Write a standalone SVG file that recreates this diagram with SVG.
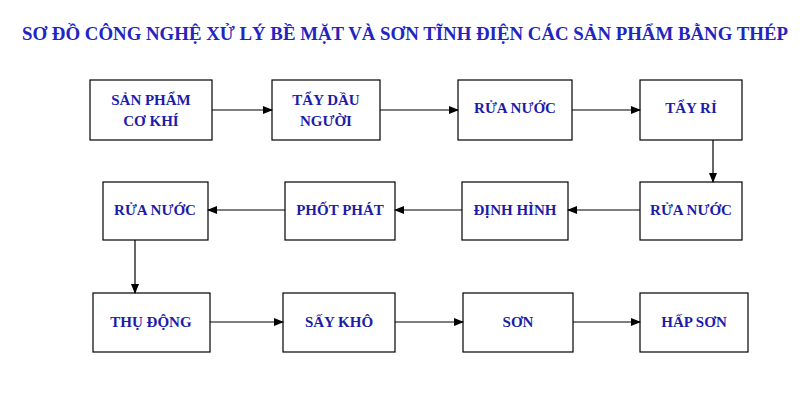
<svg xmlns="http://www.w3.org/2000/svg" width="800" height="400" viewBox="0 0 800 400">
<defs>
<marker id="ah" markerWidth="10" markerHeight="8" refX="9" refY="4" orient="auto" markerUnits="userSpaceOnUse"><path d="M0,0 L10,4 L0,8 Z" fill="#000"/></marker>
<style>
.b{fill:#fff;stroke:#000;stroke-width:1.2}
.t{font-family:"Liberation Serif",serif;font-weight:bold;font-size:15px;fill:#1c1ca8;text-anchor:middle}
.c{stroke:#000;stroke-width:1.2;fill:none;marker-end:url(#ah)}
</style>
</defs>
<rect width="800" height="400" fill="#fff"/>
<text x="22" y="40" textLength="766" lengthAdjust="spacingAndGlyphs" style="font-family:'Liberation Serif',serif;font-weight:bold;font-size:18px;fill:#2424c0">SƠ ĐỒ CÔNG NGHỆ XỬ LÝ BỀ MẶT VÀ SƠN TĨNH ĐIỆN CÁC SẢN PHẨM BẰNG THÉP</text>
<g id="n1"><rect class="b" x="90" y="80" width="122" height="60"/><text class="t" x="151" y="105">SẢN PHẨM</text><text class="t" x="151" y="126">CƠ KHÍ</text></g>
<g id="n2"><rect class="b" x="272" y="80" width="108" height="60"/><text class="t" x="326" y="105">TẨY DẦU</text><text class="t" x="326" y="126">NGƯỜI</text></g>
<g id="n3"><rect class="b" x="458" y="80" width="114" height="60"/><text class="t" x="515" y="113">RỬA NƯỚC</text></g>
<g id="n4"><rect class="b" x="640" y="80" width="102" height="60"/><text class="t" x="691" y="113">TẨY RỈ</text></g>
<g id="n5"><rect class="b" x="640" y="182" width="102" height="58"/><text class="t" x="691" y="215">RỬA NƯỚC</text></g>
<g id="n6"><rect class="b" x="462" y="182" width="106" height="58"/><text class="t" x="515" y="215">ĐỊNH HÌNH</text></g>
<g id="n7"><rect class="b" x="285" y="182" width="110" height="58"/><text class="t" x="340" y="215">PHỐT PHÁT</text></g>
<g id="n8"><rect class="b" x="103" y="182" width="105" height="58"/><text class="t" x="155" y="215">RỬA NƯỚC</text></g>
<g id="n9"><rect class="b" x="93" y="293" width="117" height="59"/><text class="t" x="151" y="327">THỤ ĐỘNG</text></g>
<g id="n10"><rect class="b" x="283" y="293" width="112" height="59"/><text class="t" x="339" y="327">SẤY KHÔ</text></g>
<g id="n11"><rect class="b" x="463" y="293" width="110" height="59"/><text class="t" x="518" y="327">SƠN</text></g>
<g id="n12"><rect class="b" x="640" y="293" width="108" height="59"/><text class="t" x="694" y="327">HẤP SƠN</text></g>
<g id="connectors">
<line class="c" x1="212" y1="110" x2="272" y2="110"/>
<line class="c" x1="380" y1="110" x2="458" y2="110"/>
<line class="c" x1="572" y1="110" x2="640" y2="110"/>
<line class="c" x1="713" y1="140" x2="713" y2="182"/>
<line class="c" x1="640" y1="210" x2="568" y2="210"/>
<line class="c" x1="462" y1="210" x2="395" y2="210"/>
<line class="c" x1="285" y1="210" x2="208" y2="210"/>
<line class="c" x1="135" y1="240" x2="135" y2="293"/>
<line class="c" x1="210" y1="322" x2="283" y2="322"/>
<line class="c" x1="395" y1="322" x2="463" y2="322"/>
<line class="c" x1="573" y1="322" x2="640" y2="322"/>
</g>
</svg>
